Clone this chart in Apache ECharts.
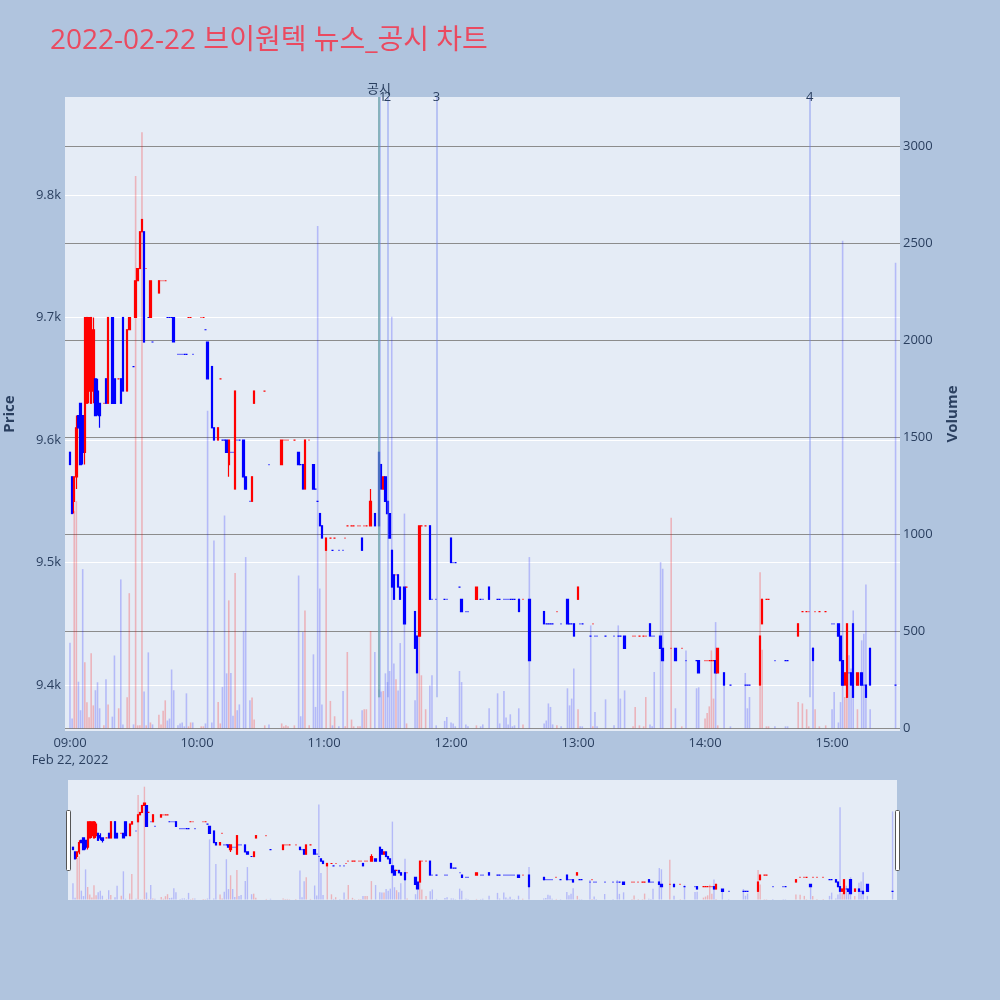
<!DOCTYPE html>
<html>
<head>
<meta charset="utf-8">
<script src="https://cdn.jsdelivr.net/npm/echarts@6/dist/echarts.min.js"></script>
<style>
html,body{margin:0;padding:0;background:#b0c4de;}
#c{width:1000px;height:1000px;}
</style>
</head>
<body>
<div id="c"></div>
<script>
// ---- data (minute offset from 09:00, prices in KRW, volume in shares) ----
const minutes = [
  0,1,2,3,4,5,6,7,8,9,
  10,11,12,13,14,16,17,18,20,21,
  23,24,25,27,28,30,31,32,33,34,
  35,36,37,38,39,42,43,44,45,46,
  47,48,49,51,52,53,54,55,56,57,
  58,62,63,64,65,67,68,70,71,72,
  73,74,75,76,77,78,79,80,82,83,
  85,86,87,92,94,100,101,102,103,106,
  108,109,110,111,113,115,116,117,118,119,
  121,123,124,125,127,129,130,131,133,134,
  136,137,138,139,140,142,144,146,147,148,
  149,150,151,152,153,154,155,156,158,159,
  163,164,165,166,168,170,171,173,177,178,
  180,181,182,184,185,187,188,192,194,195,
  198,202,203,205,206,207,208,209,210,212,
  214,217,224,225,226,227,228,230,232,235,
  236,237,238,240,241,242,246,247,248,249,
  253,257,259,260,262,266,267,269,271,272,
  274,275,276,279,280,284,286,289,291,296,
  297,300,301,302,303,304,305,306,309,312,
  319,320,321,326,327,329,330,333,338,339,
  344,346,348,349,351,352,354,357,360,361,
  363,364,365,366,367,368,369,370,372,374,
  375,376,378,390
];
const opens = [
  9590,9570,9550,9570,9620,9630,9620,9590,9630,9640,
  9630,9640,9650,9640,9630,9630,9650,9630,9700,9650,
  9650,9650,9700,9640,9690,9660,9700,9730,9740,9770,
  9770,9740,9700,9700,9680,9720,9730,9730,9730,9700,
  9700,9700,9700,9670,9670,9670,9670,9670,9700,9700,
  9670,9700,9700,9690,9680,9660,9610,9600,9650,9600,
  9600,9600,9580,9590,9590,9560,9600,9600,9600,9570,
  9550,9550,9630,9640,9580,9580,9600,9600,9600,9600,
  9590,9580,9580,9560,9600,9580,9560,9550,9540,9530,
  9510,9520,9510,9520,9510,9510,9520,9530,9530,9530,
  9530,9530,9520,9530,9530,9530,9540,9590,9580,9560,
  9570,9550,9540,9510,9490,9490,9490,9480,9480,9480,
  9460,9440,9440,9530,9530,9530,9470,9470,9470,9470,
  9520,9500,9500,9480,9470,9460,9460,9470,9470,9470,
  9480,9470,9470,9470,9470,9470,9470,9470,9470,9470,
  9470,9470,9460,9450,9450,9450,9450,9460,9450,9470,
  9450,9450,9450,9470,9450,9450,9440,9450,9440,9440,
  9440,9440,9440,9440,9440,9440,9440,9440,9440,9440,
  9450,9440,9440,9440,9430,9430,9430,9430,9420,9420,
  9420,9420,9420,9420,9420,9420,9420,9410,9410,9400,
  9400,9400,9400,9400,9450,9470,9470,9420,9420,9420,
  9440,9460,9460,9460,9430,9460,9460,9460,9450,9450,
  9450,9440,9420,9400,9390,9410,9410,9450,9400,9410,
  9400,9400,9430,9400
];
const closes = [
  9580,9540,9570,9610,9610,9580,9590,9700,9700,9700,
  9700,9690,9620,9630,9620,9630,9630,9700,9630,9630,
  9650,9630,9640,9690,9700,9660,9730,9740,9770,9780,
  9680,9740,9700,9730,9680,9730,9730,9730,9730,9700,
  9700,9700,9680,9670,9670,9670,9670,9670,9700,9700,
  9670,9700,9700,9690,9650,9610,9600,9610,9650,9600,
  9600,9590,9600,9590,9590,9640,9600,9600,9570,9560,
  9550,9570,9640,9640,9580,9600,9600,9600,9600,9600,
  9580,9580,9560,9600,9600,9560,9560,9550,9530,9520,
  9520,9520,9510,9520,9510,9510,9520,9530,9530,9530,
  9530,9530,9510,9530,9530,9550,9530,9530,9560,9570,
  9550,9540,9520,9480,9470,9490,9480,9470,9450,9480,
  9430,9410,9530,9530,9530,9470,9470,9470,9470,9470,
  9500,9500,9500,9480,9460,9460,9460,9480,9470,9470,
  9470,9470,9470,9470,9470,9470,9470,9470,9470,9460,
  9470,9420,9450,9450,9450,9450,9450,9460,9450,9450,
  9450,9450,9440,9480,9450,9450,9440,9450,9440,9440,
  9440,9440,9440,9440,9430,9440,9440,9440,9440,9440,
  9440,9440,9440,9430,9420,9430,9420,9430,9420,9420,
  9410,9420,9420,9420,9420,9420,9410,9430,9400,9400,
  9400,9400,9400,9440,9470,9470,9470,9420,9420,9420,
  9450,9460,9460,9460,9420,9460,9460,9460,9450,9450,
  9440,9420,9400,9410,9450,9410,9400,9390,9410,9400,
  9400,9390,9400,9400
];
const lows = [
  9580,9540,9540,9560,9610,9580,9580,9580,9630,9630,
  9630,9630,9620,9620,9610,9630,9630,9630,9630,9630,
  9650,9630,9640,9640,9690,9660,9700,9730,9740,9770,
  9680,9740,9700,9700,9680,9720,9730,9730,9730,9700,
  9700,9700,9680,9670,9670,9670,9670,9670,9700,9700,
  9670,9700,9700,9690,9650,9610,9600,9600,9650,9600,
  9600,9590,9570,9590,9590,9560,9600,9600,9570,9560,
  9550,9550,9630,9640,9580,9580,9600,9600,9600,9600,
  9580,9580,9560,9560,9600,9560,9560,9550,9530,9520,
  9510,9520,9510,9520,9510,9510,9520,9530,9530,9530,
  9530,9530,9510,9530,9530,9530,9530,9530,9560,9560,
  9550,9540,9520,9480,9470,9490,9480,9470,9450,9480,
  9430,9410,9440,9530,9530,9470,9470,9470,9470,9470,
  9500,9500,9500,9480,9460,9460,9460,9470,9470,9470,
  9470,9470,9470,9470,9470,9470,9470,9470,9470,9460,
  9470,9420,9450,9450,9450,9450,9450,9460,9450,9450,
  9450,9450,9440,9470,9450,9450,9440,9450,9440,9440,
  9440,9440,9440,9440,9430,9440,9440,9440,9440,9440,
  9440,9440,9440,9430,9420,9430,9420,9430,9420,9420,
  9410,9420,9420,9420,9420,9420,9410,9410,9400,9400,
  9400,9400,9400,9400,9450,9470,9470,9420,9420,9420,
  9440,9460,9460,9460,9420,9460,9460,9460,9450,9450,
  9440,9420,9400,9400,9390,9410,9400,9390,9400,9400,
  9400,9390,9400,9400
];
const highs = [
  9590,9570,9570,9620,9620,9630,9620,9700,9700,9700,
  9700,9700,9650,9650,9630,9630,9650,9700,9700,9650,
  9650,9650,9700,9690,9700,9660,9730,9740,9770,9780,
  9770,9740,9700,9730,9680,9730,9730,9730,9730,9700,
  9700,9700,9700,9670,9670,9670,9670,9670,9700,9700,
  9670,9700,9700,9690,9680,9660,9610,9610,9650,9600,
  9600,9600,9600,9590,9590,9640,9600,9600,9600,9570,
  9550,9570,9640,9640,9580,9600,9600,9600,9600,9600,
  9590,9580,9580,9600,9600,9580,9560,9550,9540,9530,
  9520,9520,9510,9520,9510,9510,9520,9530,9530,9530,
  9530,9530,9520,9530,9530,9560,9540,9590,9580,9570,
  9570,9550,9540,9510,9490,9490,9490,9480,9480,9480,
  9460,9440,9530,9530,9530,9530,9470,9470,9470,9470,
  9520,9500,9500,9480,9470,9460,9460,9480,9470,9470,
  9480,9470,9470,9470,9470,9470,9470,9470,9470,9470,
  9470,9470,9460,9450,9450,9450,9450,9460,9450,9470,
  9450,9450,9450,9480,9450,9450,9440,9450,9440,9440,
  9440,9440,9440,9440,9440,9440,9440,9440,9440,9440,
  9450,9440,9440,9440,9430,9430,9430,9430,9420,9420,
  9420,9420,9420,9420,9420,9420,9420,9430,9410,9400,
  9400,9400,9400,9440,9470,9470,9470,9420,9420,9420,
  9450,9460,9460,9460,9430,9460,9460,9460,9450,9450,
  9450,9440,9420,9410,9450,9410,9410,9450,9410,9410,
  9400,9400,9430,9400
];
const volumes = [
  440,50,1120,1170,240,93,820,340,134,57,
  386,118,196,237,103,15,252,123,60,375,
  103,767,20,160,696,20,2845,15,15,3070,
  190,15,391,30,20,70,20,90,144,40,
  50,303,196,15,25,30,10,180,10,30,
  30,10,10,25,1636,30,967,135,25,213,
  1096,283,659,285,65,800,93,123,501,882,
  144,158,45,15,20,25,10,15,10,15,
  787,62,496,607,15,381,110,2588,720,123,
  916,141,15,62,10,192,10,393,45,10,
  10,10,93,98,98,501,393,200,190,192,
  283,238,295,2120,334,252,195,439,1106,25,
  144,283,659,273,98,221,273,15,38,58,
  30,25,10,295,238,20,10,15,10,20,
  103,180,25,192,55,20,72,10,15,103,
  20,882,25,40,128,110,20,15,10,206,
  118,153,308,98,10,10,530,10,84,10,
  149,15,530,153,195,10,110,15,10,161,
  20,10,290,856,822,1084,103,10,401,206,
  211,51,79,113,401,153,547,15,233,10,
  285,103,161,804,405,10,10,10,10,10,
  135,128,98,10,418,98,10,15,98,187,
  30,135,2511,161,200,376,308,607,98,453,
  487,741,98,2398
];
// news / disclosure times (minutes after 09:00)
const newsMinutes = [146, 150, 173.1, 349.4];
const newsLabels = ['1', '2', '3', '4'];
const disclosureMinutes = [146];
const disclosureLabels = ['공시'];
const titleText = '2022-02-22 브이원텍 뉴스_공시 차트';
const dateLabel = 'Feb 22, 2022';

// ---- chart ----
const FONT = '"Open Sans", "Noto Sans CJK KR", sans-serif';
const TXT = '#2a3f5f';
const UP = '#ff0000', DOWN = '#0000ff';
const T_MIN = -2.36, T_MAX = 392.1;
const P_MIN = 9362.5, P_MAX = 9880;
const V_MIN = -14, V_MAX = 3252;

const dirs = [];
for (let i = 0; i < minutes.length; i++) {
  let d;
  if (closes[i] > opens[i]) d = 1;
  else if (closes[i] < opens[i]) d = -1;
  else if (i === 0) d = 1;
  else d = closes[i] > closes[i - 1] ? 1 : (closes[i] < closes[i - 1] ? -1 : dirs[i - 1]);
  dirs.push(d);
}
const candleData = minutes.map((t, i) => {
  const col = dirs[i] > 0 ? UP : DOWN;
  return { value: [t, opens[i], closes[i], lows[i], highs[i]],
           itemStyle: { color: col, color0: col, borderColor: col, borderColor0: col, borderColorDoji: col } };
});
const volData = minutes.map((t, i) => ({
  value: [t, volumes[i]],
  itemStyle: { color: dirs[i] > 0 ? 'rgba(255,0,0,0.24)' : 'rgba(0,0,255,0.21)' }
}));

const lineLow = Math.min.apply(null, lows);
const markData = [];
disclosureMinutes.forEach((t, i) => {
  markData.push([
    { coord: [t, lineLow], lineStyle: { color: 'rgba(90,185,90,0.75)', width: 1.5, type: 'solid' },
      label: { formatter: disclosureLabels[i], distance: 1 } },
    { coord: [t, P_MAX] }
  ]);
});
newsMinutes.forEach((t, i) => {
  markData.push([
    { coord: [t, lineLow], lineStyle: { color: 'rgba(110,130,240,0.38)', width: i === 0 ? 3 : 2, type: 'solid' },
      label: { formatter: newsLabels[i], distance: -7, align: i === 0 ? 'left' : 'center' } },
    { coord: [t, P_MAX] }
  ]);
});

function timeFmt(v) {
  if (Math.abs(v % 60) > 1e-6) return '';
  const h = 9 + Math.round(v / 60);
  const s = String(h).padStart(2, '0') + ':00';
  return Math.abs(v) < 1e-6 ? s + '\n' + dateLabel : s;
}

const chart = echarts.init(document.getElementById('c'));
chart.setOption({
  backgroundColor: '#b0c4de',
  animation: false,
  textStyle: { fontFamily: FONT },
  title: {
    text: titleText, left: 45, top: 22,
    textStyle: { fontSize: 28, fontWeight: 'normal', color: '#ea4a60', fontFamily: FONT }
  },
  grid: [
    { left: 65, right: 100, top: 97, bottom: 269, show: true, backgroundColor: '#e5ecf6', borderWidth: 0,
      containLabel: false, outerBoundsMode: 'none' },
    { left: 68, right: 103, top: 780, bottom: 100, show: true, backgroundColor: '#e5ecf6', borderWidth: 0,
      containLabel: false, outerBoundsMode: 'none' }
  ],
  xAxis: [
    { type: 'value', gridIndex: 0, min: T_MIN, max: T_MAX, minInterval: 60, maxInterval: 60, splitNumber: 6,
      axisLine: { show: false }, axisTick: { show: false }, splitLine: { show: false },
      axisLabel: { formatter: timeFmt, color: TXT, fontSize: 13, fontFamily: FONT, margin: 4, lineHeight: 17 } },
    { type: 'value', gridIndex: 1, min: T_MIN, max: T_MAX, show: false, splitLine: { show: false } }
  ],
  yAxis: [
    { type: 'value', gridIndex: 0, position: 'left', min: P_MIN, max: P_MAX, minInterval: 100, maxInterval: 100, splitNumber: 5,
      name: 'Price', nameLocation: 'middle', nameGap: 48, nameRotate: 90,
      nameTextStyle: { color: TXT, fontSize: 15, fontWeight: 'bold', fontFamily: FONT },
      axisLine: { show: false }, axisTick: { show: false },
      axisLabel: { formatter: v => (Math.abs(v % 100) < 1e-6 ? (v / 1000).toFixed(1) + 'k' : ''), color: TXT, fontSize: 13, fontFamily: FONT, margin: 4 },
      splitLine: { show: true, showMinLine: false, showMaxLine: false, lineStyle: { color: '#ffffff', width: 1.2 } } },
    { type: 'value', gridIndex: 0, position: 'right', min: V_MIN, max: V_MAX, minInterval: 500, maxInterval: 500, splitNumber: 6,
      name: 'Volume', nameLocation: 'middle', nameGap: 45, nameRotate: 90,
      nameTextStyle: { color: TXT, fontSize: 15, fontWeight: 'bold', fontFamily: FONT },
      axisLine: { show: false }, axisTick: { show: false },
      axisLabel: { formatter: v => (Math.abs(v % 500) < 1e-6 ? String(Math.round(v)) : ''), color: TXT, fontSize: 13, fontFamily: FONT, margin: 3 },
      splitLine: { show: true, showMinLine: false, showMaxLine: false, lineStyle: { color: '#8c8c8c', width: 1.2 } } },
    { type: 'value', gridIndex: 1, min: P_MIN, max: P_MAX, show: false, splitLine: { show: false } },
    { type: 'value', gridIndex: 1, min: V_MIN, max: V_MAX, show: false, splitLine: { show: false } }
  ],
  series: [
    { type: 'bar', name: 'Volume', xAxisIndex: 0, yAxisIndex: 1, data: volData, barWidth: 1.6, z: 2 },
    { type: 'candlestick', name: 'Price', xAxisIndex: 0, yAxisIndex: 0, data: candleData, barWidth: 2, z: 3,
      itemStyle: { borderWidth: 1.2 },
      markLine: {
        silent: true, symbol: ['none', 'none'], animation: false,
        label: { show: true, position: 'end', color: TXT, fontSize: 13, fontFamily: FONT },
        data: markData
      } },
    { type: 'bar', xAxisIndex: 1, yAxisIndex: 3, data: volData, barWidth: 1.4, z: 2, silent: true },
    { type: 'candlestick', xAxisIndex: 1, yAxisIndex: 2, data: candleData, barWidth: 1.8, z: 3, silent: true,
      itemStyle: { borderWidth: 1.2 } }
  ],
  graphic: [
    { type: 'rect', left: 66, top: 810, shape: { width: 4, height: 60, r: 1 }, style: { fill: '#ffffff', stroke: '#555', lineWidth: 1 }, z: 100 },
    { type: 'rect', left: 895, top: 810, shape: { width: 4, height: 60, r: 1 }, style: { fill: '#ffffff', stroke: '#555', lineWidth: 1 }, z: 100 }
  ]
});
</script>
</body>
</html>
